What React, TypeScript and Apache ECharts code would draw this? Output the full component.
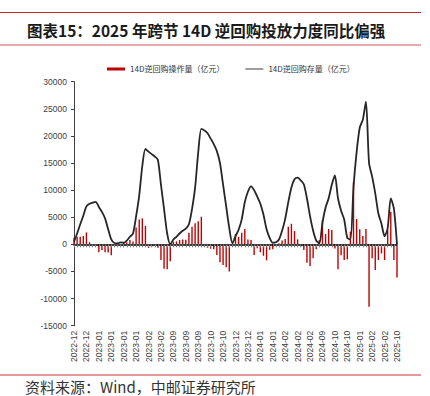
import React, { useEffect, useRef } from 'react';
import * as echarts from 'echarts';

// month of each trading day, as runs: [month, number of days]
const monthRuns: [string, number][] = [
  ['2022-12', 8], ['2023-01', 16], ['2023-02', 7],
  ['2023-09', 12], ['2023-10', 8],
  ['2023-12', 8], ['2024-01', 8], ['2024-02', 12],
  ['2024-09', 4], ['2024-10', 6],
  ['2025-01', 6], ['2025-02', 6],
  ['2025-10', 4],
];
const categories: string[] = monthRuns.flatMap(([m, n]) => Array(n).fill(m));

// 14D reverse repo operations (亿元)
const operationVolume: number[] = [
  1200, 1400, 1400, 1550, 2200, 400, 0, 0, -1450, -1050,
  -1450, -1500, -2030, 0, 0, 0, 300, 400, 800, 550,
  3100, 4600, 4800, 3400, -680, -430, 0, -620, -2900, -4500,
  -4600, -3100, 500, 550, 800, 900, 850, 2150, 3250, 3900,
  4250, 5100, -430, -620, -800, -900, -1970, -3300, -3800, -4200,
  -5000, 0, 1900, 1400, 2150, 2830, 920, 800, -1970, -700,
  -1450, -2100, -2950, -1000, -900, 0, 200, 700, 1000, 3260,
  3800, 2460, 920, -430, -1045, -3400, -4000, -2580, -900, 800,
  4490, 1900, 2830, 2650, -740, -4600, -2030, -2890, -2770, 2340,
  11560, 4670, 2770, 1540, 2830, -11500, -2580, -4735, -2890, -1660,
  -2890, 2640, 6030, -2890, -6090,
];

// 14D reverse repo outstanding (亿元)
const outstandingStock: number[] = [
  500, 2000, 3700, 5300, 7000, 7500, 7700, 7850, 6900, 6000,
  4800, 2800, 900, 250, 200, 350, 300, 700, 1400, 2000,
  5200, 9000, 14500, 17600, 17100, 16650, 16200, 15600, 11000, 6500,
  2000, 0, 900, 1400, 2000, 2500, 2900, 3700, 6500, 10500,
  17000, 21300, 21000, 20500, 19500, 18500, 17200, 15000, 11000, 7000,
  3000, 200, 1500, 2700, 4600, 7800, 9700, 10700, 10000, 8800,
  7500, 5500, 2800, 1200, 300, 400, 900, 2500, 4700, 7800,
  10500, 12000, 12300, 11800, 11100, 8500, 5200, 2500, 700, 200,
  4000, 6800, 8500, 11000, 12700, 8500, 6200, 4600, 1200, 900,
  10600, 17000, 21500, 23000, 26300, 15000, 12500, 9400, 5700, 3800,
  1500, 3000, 8500, 6600, 0,
];

const yMin = -15000;
const yMax = 30000;
const yStep = 5000;

const seriesNames = ['14D逆回购操作量（亿元）', '14D逆回购存量（亿元）'];
const titleText = '图表15：2025 年跨节 14D 逆回购投放力度同比偏强';
const sourceText = '资料来源：Wind，中邮证券研究所';

export default function App() {
  const ref = useRef<HTMLDivElement>(null);
  useEffect(() => {
    const chart = echarts.init(ref.current!, null, { renderer: 'svg' });
    const axisFont = 'Liberation Sans, Arial, sans-serif';
    chart.setOption({
      animation: false,
      backgroundColor: '#ffffff',
      textStyle: { fontFamily: axisFont },
      grid: { left: 74, right: 33, top: 81.7, bottom: 70.3, containLabel: false },
      legend: {
        left: 102,
        top: 60,
        itemWidth: 18,
        itemHeight: 3,
        itemGap: 21,
        textStyle: { fontSize: 8, color: '#333333', fontFamily: 'Noto Sans CJK SC' },
        data: [
          { name: seriesNames[0], icon: 'rect' },
          { name: seriesNames[1], icon: 'path://M0,0H20V1H0Z' },
        ],
      },
      xAxis: [
        {
          type: 'category',
          data: categories,
          boundaryGap: false,
          axisLine: { onZero: true, lineStyle: { color: '#000000', width: 1.6 } },
          axisTick: { show: true, interval: 0, length: 3, lineStyle: { color: '#808080', width: 1 } },
          axisLabel: { show: false },
          splitLine: { show: false },
          z: 5,
        },
        {
          type: 'category',
          data: categories,
          boundaryGap: false,
          position: 'bottom',
          axisLine: { show: false, onZero: false },
          axisTick: { show: false },
          axisLabel: { interval: 3, rotate: 90, fontSize: 8.5, color: '#404040', margin: 5, fontFamily: axisFont },
          splitLine: { show: false },
        },
      ],
      yAxis: {
        type: 'value',
        min: yMin,
        max: yMax,
        interval: yStep,
        axisLine: { show: true, lineStyle: { color: '#404040', width: 1 } },
        axisTick: { show: true, length: 3, lineStyle: { color: '#404040' } },
        axisLabel: {
          fontSize: 8.5, color: '#404040', margin: 7, fontFamily: axisFont,
          formatter: (v: number) => String(v),
        },
        splitLine: { show: false },
      },
      series: [
        {
          name: seriesNames[0],
          type: 'bar',
          xAxisIndex: 0,
          data: operationVolume,
          barWidth: 1.4,
          clip: false,
          itemStyle: { color: '#C00000' },
        },
        {
          name: seriesNames[1],
          type: 'line',
          xAxisIndex: 0,
          data: outstandingStock,
          smooth: 0.25,
          showSymbol: false,
          symbol: 'none',
          lineStyle: { color: '#262626', width: 1.8 },
          itemStyle: { color: '#262626' },
          z: 3,
        },
      ],
      graphic: [
        { type: 'line', shape: { x1: 0, y1: 12.5, x2: 421, y2: 12.5 }, style: { stroke: '#C0272D', lineWidth: 1 } },
        {
          type: 'text', left: 27, top: 22,
          style: { text: titleText, fontSize: 15.5, fontWeight: 'bold', fill: '#1a1a1a', fontFamily: 'Noto Sans CJK SC' },
        },
        { type: 'line', shape: { x1: 0, y1: 45, x2: 421, y2: 45 }, style: { stroke: '#C0272D', lineWidth: 0.8 } },
        { type: 'line', shape: { x1: 0, y1: 375, x2: 421, y2: 375 }, style: { stroke: '#E49A9A', lineWidth: 2 } },
        {
          type: 'text', x: 25, y: 386,
          style: {
            text: sourceText, fontSize: 15, fill: '#333333', fontFamily: 'Noto Sans CJK SC',
            verticalAlign: 'middle', align: 'left',
          },
        },
      ],
    });
    return () => chart.dispose();
  }, []);
  return (
    <div
      ref={ref}
      style={{ position: 'fixed', left: 0, top: 0, width: 430, height: 396, background: '#ffffff' }}
    />
  );
}
